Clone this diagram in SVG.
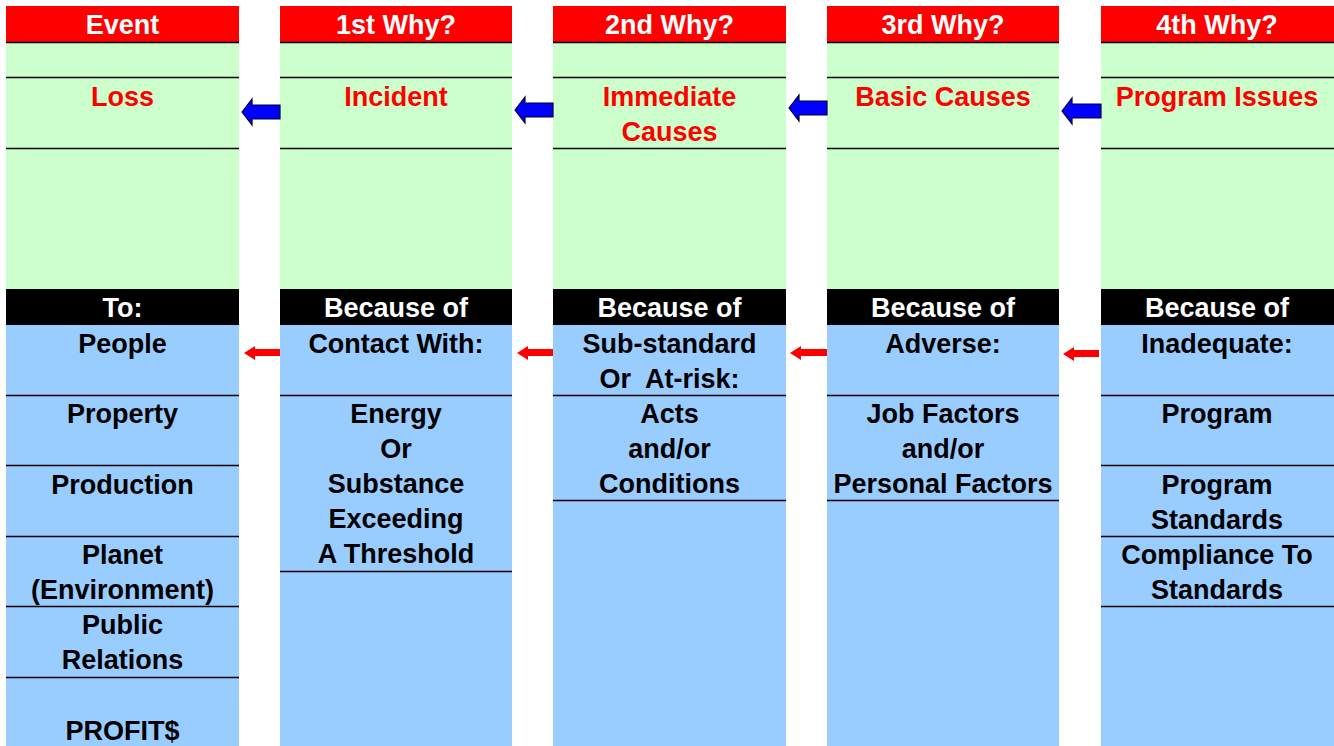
<svg xmlns="http://www.w3.org/2000/svg" width="1334" height="746" viewBox="0 0 1334 746">
<style>
.hdr{fill:#FF0000}
.grn{fill:#CCFFCC}
.blk{fill:#000000}
.blu{fill:#99CCFF}
.ln{stroke:#000;stroke-width:1.5;fill:none}
text{font-family:"Liberation Sans",Arial,sans-serif;font-weight:bold;font-size:27px;text-anchor:middle}
.w{fill:#FFFFFF}
.r{fill:#FF0000}
.k{fill:#000000}
.barrow{fill:#0000FF;stroke:#000033;stroke-width:1.2}
.rarrow{fill:#FF0000}
</style>
<rect width="1334" height="746" fill="#FFFFFF"/>
<g id="col-event">
<rect class="hdr" x="6" y="6" width="233" height="36"/>
<rect class="grn" x="6" y="42" width="233" height="247"/>
<rect class="blk" x="6" y="289" width="233" height="36"/>
<rect class="blu" x="6" y="325" width="233" height="421"/>
<path class="ln" d="M6 42.5H239M6 77.5H239M6 148.5H239M6 395.5H239M6 465.5H239M6 536.5H239M6 606.5H239M6 677.5H239"/>
<text class="w" x="122.5" y="34">Event</text>
<text class="r" x="122.5" y="106">Loss</text>
<text class="w" x="122.5" y="317">To:</text>
<text class="k" x="122.5" y="353">People</text>
<text class="k" x="122.5" y="423">Property</text>
<text class="k" x="122.5" y="494">Production</text>
<text class="k" x="122.5" y="564">Planet</text>
<text class="k" x="122.5" y="599">(Environment)</text>
<text class="k" x="122.5" y="634">Public</text>
<text class="k" x="122.5" y="669">Relations</text>
<text class="k" x="122.5" y="740">PROFIT$</text>
</g>
<g id="col-why1">
<rect class="hdr" x="280" y="6" width="232" height="36"/>
<rect class="grn" x="280" y="42" width="232" height="247"/>
<rect class="blk" x="280" y="289" width="232" height="36"/>
<rect class="blu" x="280" y="325" width="232" height="421"/>
<path class="ln" d="M280 42.5H512M280 77.5H512M280 148.5H512M280 395.5H512M280 571.5H512"/>
<text class="w" x="396" y="34">1st Why?</text>
<text class="r" x="396" y="106">Incident</text>
<text class="w" x="396" y="317">Because of</text>
<text class="k" x="396" y="353">Contact With:</text>
<text class="k" x="396" y="423">Energy</text>
<text class="k" x="396" y="458">Or</text>
<text class="k" x="396" y="493">Substance</text>
<text class="k" x="396" y="528">Exceeding</text>
<text class="k" x="396" y="563">A Threshold</text>
</g>
<g id="col-why2">
<rect class="hdr" x="553" y="6" width="233" height="36"/>
<rect class="grn" x="553" y="42" width="233" height="247"/>
<rect class="blk" x="553" y="289" width="233" height="36"/>
<rect class="blu" x="553" y="325" width="233" height="421"/>
<path class="ln" d="M553 42.5H786M553 77.5H786M553 148.5H786M553 395.5H786M553 500.5H786"/>
<text class="w" x="669.5" y="34">2nd Why?</text>
<text class="r" x="669.5" y="106">Immediate</text>
<text class="r" x="669.5" y="141">Causes</text>
<text class="w" x="669.5" y="317">Because of</text>
<text class="k" x="669.5" y="353">Sub-standard</text>
<text class="k" x="669.5" y="388" xml:space="preserve">Or  At-risk:</text>
<text class="k" x="669.5" y="423">Acts</text>
<text class="k" x="669.5" y="458">and/or</text>
<text class="k" x="669.5" y="493">Conditions</text>
</g>
<g id="col-why3">
<rect class="hdr" x="827" y="6" width="232" height="36"/>
<rect class="grn" x="827" y="42" width="232" height="247"/>
<rect class="blk" x="827" y="289" width="232" height="36"/>
<rect class="blu" x="827" y="325" width="232" height="421"/>
<path class="ln" d="M827 42.5H1059M827 77.5H1059M827 148.5H1059M827 395.5H1059M827 500.5H1059"/>
<text class="w" x="943" y="34">3rd Why?</text>
<text class="r" x="943" y="106">Basic Causes</text>
<text class="w" x="943" y="317">Because of</text>
<text class="k" x="943" y="353">Adverse:</text>
<text class="k" x="943" y="423">Job Factors</text>
<text class="k" x="943" y="458">and/or</text>
<text class="k" x="943" y="493">Personal Factors</text>
</g>
<g id="col-why4">
<rect class="hdr" x="1101" y="6" width="233" height="36"/>
<rect class="grn" x="1101" y="42" width="233" height="247"/>
<rect class="blk" x="1101" y="289" width="233" height="36"/>
<rect class="blu" x="1101" y="325" width="233" height="421"/>
<path class="ln" d="M1101 42.5H1334M1101 77.5H1334M1101 148.5H1334M1101 395.5H1334M1101 465.5H1334M1101 536.5H1334M1101 606.5H1334"/>
<text class="w" x="1217" y="34">4th Why?</text>
<text class="r" x="1217" y="106">Program Issues</text>
<text class="w" x="1217" y="317">Because of</text>
<text class="k" x="1217" y="353">Inadequate:</text>
<text class="k" x="1217" y="423">Program</text>
<text class="k" x="1217" y="494">Program</text>
<text class="k" x="1217" y="529">Standards</text>
<text class="k" x="1217" y="564">Compliance To</text>
<text class="k" x="1217" y="599">Standards</text>
</g>
<g id="connectors">
<path class="barrow" d="M242 112L252 99V105H280V119H252V125Z"/>
<path class="barrow" d="M515 110L525 97V103H553V117H525V123Z"/>
<path class="barrow" d="M789 108L799 95V101H827V115H799V121Z"/>
<path class="barrow" d="M1062 111L1072 98V104H1101V118H1072V124Z"/>
<path class="rarrow" d="M244 353L255 346V349H280V356H255V360Z"/>
<path class="rarrow" d="M517 353L528 346V349H553V356H528V360Z"/>
<path class="rarrow" d="M790 353L801 346V349H827V356H801V360Z"/>
<path class="rarrow" d="M1063 354L1074 347V350H1099V357H1074V361Z"/>
</g>
</svg>
